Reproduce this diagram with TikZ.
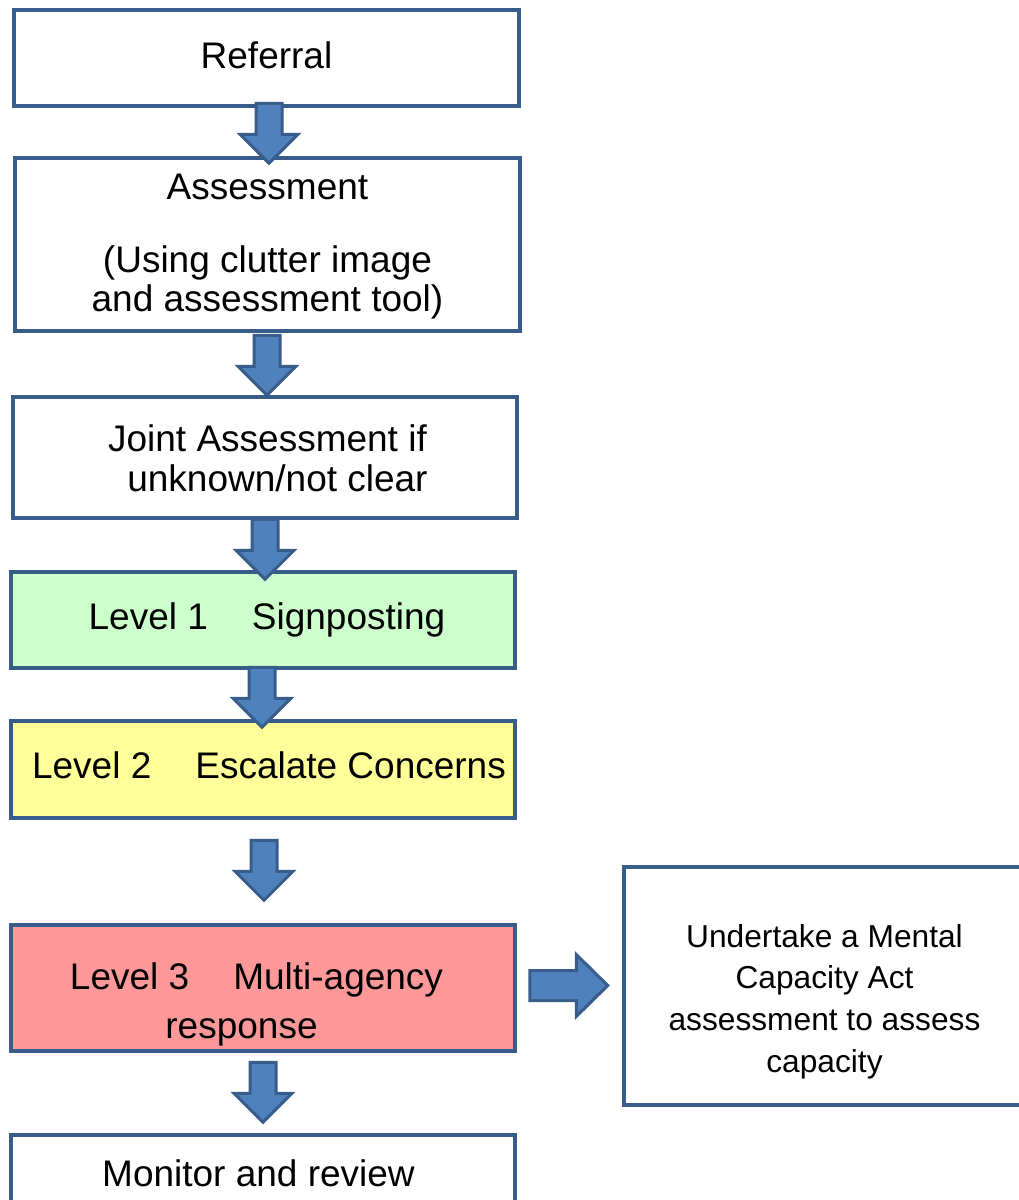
\documentclass[tikz,border=0pt]{standalone}
\usepackage{fontspec}
\setmainfont{Liberation Sans}
\usetikzlibrary{calc}
\definecolor{bordblue}{HTML}{385D8A}
\definecolor{arrfill}{HTML}{4F81BD}
\definecolor{lgreen}{HTML}{CCFFCC}
\definecolor{lyellow}{HTML}{FFFF99}
\definecolor{lred}{HTML}{FF9999}
\begin{document}
\begin{tikzpicture}[x=1pt,y=-1pt,
  flowbox/.style={draw=bordblue, line width=4.5pt, fill=white, inner sep=0pt, align=center,
    font=\fontsize{37}{40}\selectfont},
  oneline/.style={text height=27pt, text depth=9pt},
  blockarr/.style={draw=bordblue, fill=arrfill, line width=3pt, line join=miter},
  downarr/.pic={\draw[blockarr] (-13,0) -- (13,0) -- (13,31) -- (29,31) -- (0,60) -- (-29,31) -- (-13,31) -- cycle;},
  rightarr/.pic={\draw[blockarr] (0,-15) -- (46.5,-15) -- (46.5,-31) -- (78,0) -- (46.5,31) -- (46.5,15) -- (0,15) -- cycle;}
]
\useasboundingbox (0,0) rectangle (1019,1200);
\clip (0,0) rectangle (1019,1200);

\node[flowbox, oneline, minimum width=505pt, minimum height=96pt, text depth=7pt] (ref) at (266.5,58) {Referral};
\node[flowbox, minimum width=505pt, minimum height=173pt, font=\fontsize{37}{39}\selectfont] (assess) at (267.5,244.5)
  {\rule{0pt}{30pt}Assessment\\[34pt](Using clutter image\\and assessment tool)};
\node[flowbox, minimum width=504pt, minimum height=121pt] (joint) at (265,457.5)
  {\rule{0pt}{28pt}\hspace*{5pt}Joint Assessment if\\\hspace*{25pt}unknown/not clear};
\node[flowbox, oneline, fill=lgreen, minimum width=504pt, minimum height=96pt] (lvl1) at (263,620)
  {\hspace*{8pt}Level 1\hspace{44pt}Signposting};
\node[flowbox, oneline, fill=lyellow, minimum width=504pt, minimum height=97pt] (lvl2) at (263,769.5)
  {\hspace*{12pt}Level 2\hspace{44pt}Escalate Concerns};
\node[flowbox, fill=lred, minimum width=504pt, minimum height=126pt, font=\fontsize{37}{49}\selectfont] (lvl3) at (263,988)
  {\rule{0pt}{60pt}Level 3\hspace{44pt}Multi-agency\hspace*{13pt}\\response\hspace*{43pt}};
\node[flowbox, oneline, minimum width=504pt, minimum height=84pt] (mon) at (263,1177)
  {Monitor and review\hspace*{9pt}};
\node[flowbox, minimum width=401pt, minimum height=238pt, font=\fontsize{31.7}{41.7}\selectfont] (mca) at (824.5,986)
  {\rule{0pt}{54pt}Undertake a Mental\\Capacity Act\\assessment to assess\\capacity};

\pic at ($(ref.south)+(2.5,-5)$) {downarr};
\pic at ($(assess.south)+(-0.5,2)$) {downarr};
\pic at ($(joint.south)+(0,-1)$) {downarr};
\pic at ($(lvl1.south)+(-1,-3)$) {downarr};
\pic at ($(lvl2.south)+(1,20)$) {downarr};
\pic at ($(lvl3.south)+(0,9)$) {downarr};
\pic at ($(lvl3.east)+(12.5,-2.5)$) {rightarr};
\end{tikzpicture}
\end{document}
